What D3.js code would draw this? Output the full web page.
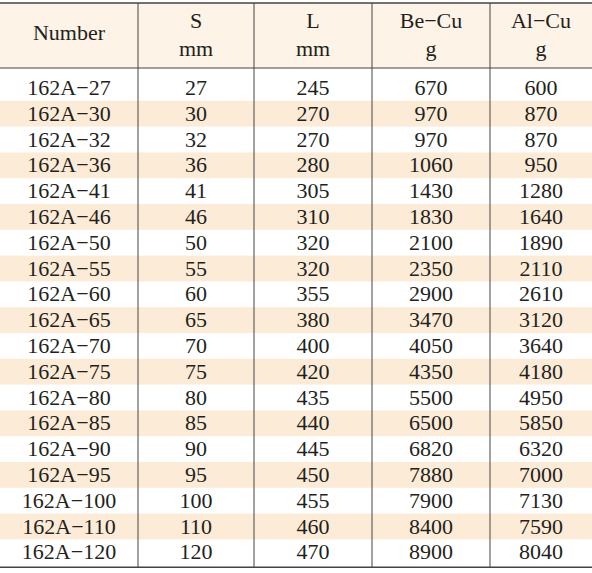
<!DOCTYPE html><html><head><meta charset="utf-8">
<script src="https://cdn.jsdelivr.net/npm/d3@7"></script>
<style>body{margin:0;background:#fff}</style></head><body>
<svg id="c" width="592" height="573"></svg>
<script>
const headers=[["Number"],["S","mm"],["L","mm"],["Be\u2212Cu","g"],["Al\u2212Cu","g"]];
const numbers=["162A\u221227","162A\u221230","162A\u221232","162A\u221236","162A\u221241","162A\u221246","162A\u221250","162A\u221255","162A\u221260","162A\u221265","162A\u221270","162A\u221275","162A\u221280","162A\u221285","162A\u221290","162A\u221295","162A\u2212100","162A\u2212110","162A\u2212120"];
const sVals=[27,30,32,36,41,46,50,55,60,65,70,75,80,85,90,95,100,110,120];
const lVals=[245,270,270,280,305,310,320,320,355,380,400,420,435,440,445,450,455,460,470];
const beCu=[670,970,970,1060,1430,1830,2100,2350,2900,3470,4050,4350,5500,6500,6820,7880,7900,8400,8900];
const alCu=[600,870,870,950,1280,1640,1890,2110,2610,3120,3640,4180,4950,5850,6320,7000,7130,7590,8040];
(function(){
const cols=[numbers,sVals,lVals,beCu,alCu];
const edges=[0,138,254,372,490,592];
const svg=d3.select("#c");
const x=i=>(edges[i]+edges[i+1])/2;
const tY=3,hb=68,r0=75,rh=25.8;
const y=d3.scaleLinear().domain([0,numbers.length]).range([r0,r0+rh*numbers.length]);
const bottom=y(numbers.length)+2;
svg.append("rect").attr("x",0).attr("y",tY).attr("width",592).attr("height",hb-tY).attr("fill","#fdf3e6");
numbers.forEach((d,i)=>{if(i%2==1)svg.append("rect").attr("x",0).attr("y",y(i)).attr("width",592).attr("height",rh).attr("fill","#fcebd7");});
const font="'Liberation Serif','Times New Roman',serif";
headers.forEach((h,i)=>{
  if(h.length==1) svg.append("text").attr("x",x(i)).attr("y",40).text(h[0]);
  else {svg.append("text").attr("x",x(i)).attr("y",28).text(h[0]);svg.append("text").attr("x",x(i)).attr("y",56).text(h[1]);}
});
cols.forEach((c,j)=>c.forEach((v,i)=>svg.append("text").attr("x",x(j)).attr("y",y(i)+rh/2+7).text(v)));
svg.selectAll("text").attr("text-anchor","middle").attr("font-family",font).attr("font-size",22).attr("fill","#231f20");
const ln="#444";
svg.append("line").attr("x1",0).attr("x2",592).attr("y1",tY).attr("y2",tY).attr("stroke",ln).attr("stroke-width",1.5);
svg.append("line").attr("x1",0).attr("x2",592).attr("y1",hb).attr("y2",hb).attr("stroke",ln).attr("stroke-width",1);
svg.append("line").attr("x1",0).attr("x2",592).attr("y1",bottom).attr("y2",bottom).attr("stroke",ln).attr("stroke-width",1.5);
edges.slice(1,5).forEach(e=>svg.append("line").attr("x1",e).attr("x2",e).attr("y1",tY).attr("y2",bottom).attr("stroke",ln).attr("stroke-width",1));
})();
</script></body></html>
